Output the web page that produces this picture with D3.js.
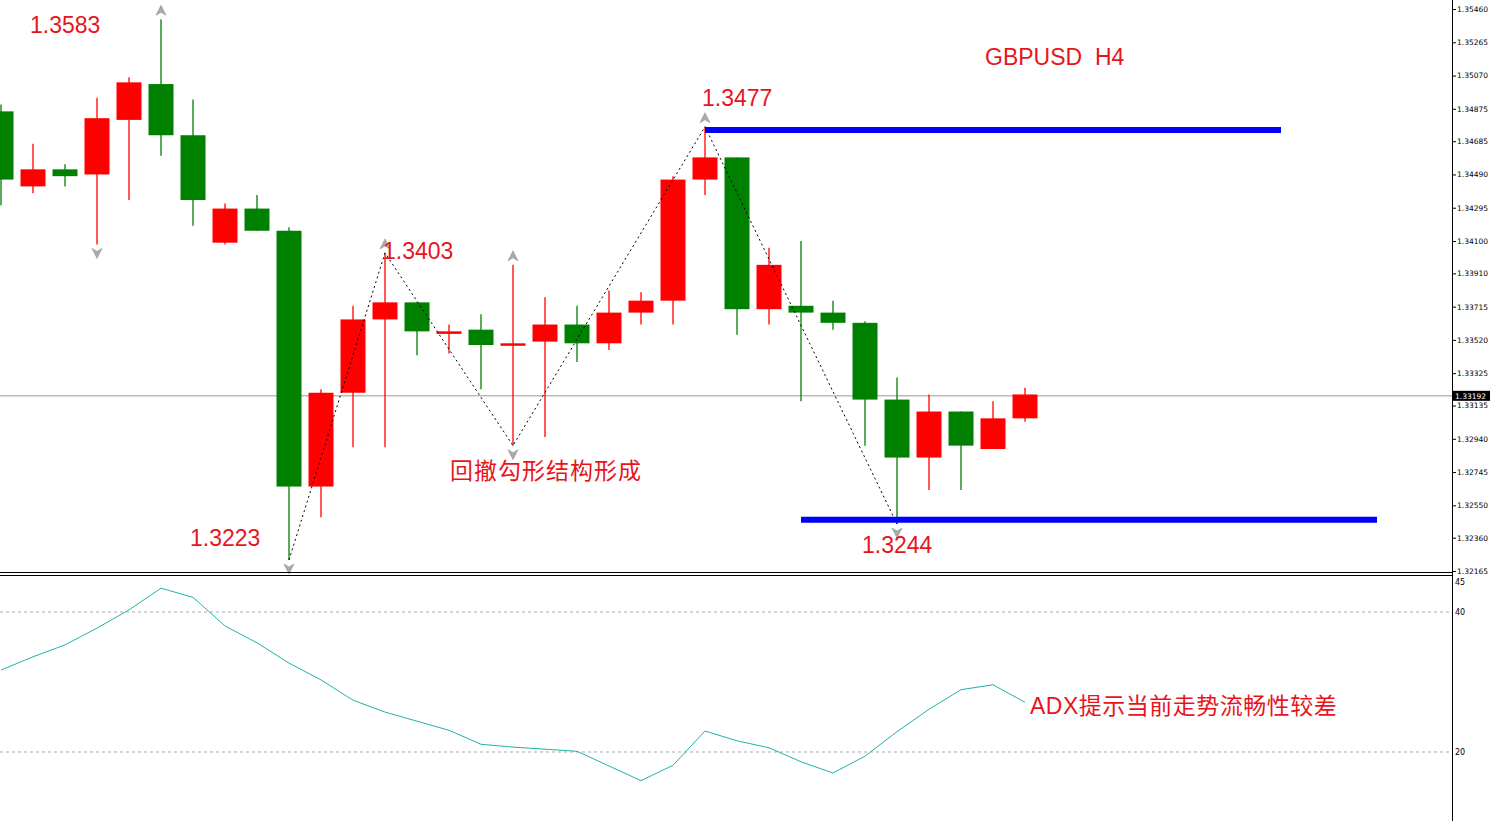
<!DOCTYPE html><html><head><meta charset="utf-8"><script src="https://cdn.jsdelivr.net/npm/d3@7"></script>
<style>body{margin:0;background:#fff}svg{display:block}</style></head><body><svg id="c" width="1490" height="821"></svg><script>
const opens =[1.3486,1.3442,1.3452,1.3449,1.3481,1.3502,1.3472,1.3409,1.3429,1.3416,1.3266,1.3321,1.3364,1.3374,1.3357,1.3358,1.3350,1.3351,1.3361,1.3350,1.3368,1.3375,1.3446,1.3459,1.3370,1.3372,1.3368,1.3362,1.3317,1.3283,1.3310,1.3288,1.3306];
const highs =[1.3490,1.3467,1.3455,1.3494,1.3506,1.3540,1.3493,1.3432,1.3437,1.3418,1.3323,1.3372,1.3403,1.3374,1.3361,1.3367,1.3396,1.3377,1.3372,1.3381,1.3380,1.3448,1.3477,1.3459,1.3406,1.3410,1.3375,1.3363,1.3330,1.3320,1.3310,1.3316,1.3324];
const lows  =[1.3431,1.3438,1.3442,1.3408,1.3434,1.3460,1.3419,1.3408,1.3416,1.3223,1.3248,1.3289,1.3289,1.3343,1.3344,1.3323,1.3290,1.3295,1.3339,1.3346,1.3361,1.3361,1.3437,1.3355,1.3361,1.3316,1.3358,1.3290,1.3244,1.3264,1.3264,1.3288,1.3304];
const closes=[1.3446,1.3452,1.3448,1.3482,1.3503,1.3472,1.3434,1.3429,1.3416,1.3266,1.3321,1.3364,1.3374,1.3357,1.3357,1.3349,1.3350,1.3361,1.3350,1.3368,1.3375,1.3446,1.3459,1.3370,1.3396,1.3368,1.3362,1.3317,1.3283,1.3310,1.3290,1.3306,1.3320];
const adx=[31.7,33.6,35.3,37.7,40.3,43.4,42.1,38.0,35.6,32.7,30.3,27.4,25.7,24.4,23.1,21.1,20.7,20.4,20.1,18.0,15.9,18.1,23.0,21.6,20.6,18.6,17.0,19.4,22.9,26.1,28.9,29.6,27.1];
const zigIdx=[9,12,16,22,28];
const zigPrice=[1.3223,1.3403,1.3290,1.3477,1.3244];
const upArrows=[[5,1.3540],[12,1.3403],[16,1.3396],[22,1.3477]];
const downArrows=[[3,1.3408],[9,1.3223],[16,1.3290],[28,1.3244]];
const levels=[{p:1.3475,from:22,to:40},{p:1.32465,from:25,to:43}];
const priceTicks=[1.35460,1.35265,1.35070,1.34875,1.34685,1.34490,1.34295,1.34100,1.33910,1.33715,1.33520,1.33325,1.33135,1.32940,1.32745,1.32550,1.32360,1.32165];
const adxTicks=[45,40,20];
const lastPrice=1.33192;
const labels=[{t:"1.3583",x:30,y:33,ls:0},{t:"GBPUSD\u00a0\u00a0H4",x:985,y:65,ls:0},{t:"1.3477",x:702,y:106,ls:0},{t:"1.3403",x:383,y:259,ls:0},{t:"回撤勾形结构形成",x:450,y:479,ls:1},{t:"1.3223",x:190,y:546,ls:0},{t:"1.3244",x:862,y:553,ls:0},{t:"ADX提示当前走势流畅性较差",x:1030,y:714,ls:0.5}];

const svg=d3.select("#c");
const x=d3.scaleLinear().domain([0,1]).range([1,33]);
const y=d3.scaleLinear().domain([1.32159,1.35513]).range([572,0]);
const ya=d3.scaleLinear().domain([10.14,45]).range([821,577]);
const RED="#ff0000",GRN="#008000";
const idx=d3.range(opens.length);
const col=i=>closes[i]>=opens[i]?RED:GRN;
svg.append("line").attr("x1",0).attr("x2",1452).attr("y1",y(lastPrice)).attr("y2",y(lastPrice)).attr("stroke","#999");
const g=svg.append("g");
g.selectAll(".w").data(idx).join("line").attr("x1",i=>x(i)).attr("x2",i=>x(i)).attr("y1",i=>y(highs[i])).attr("y2",i=>y(lows[i])).attr("stroke",col).attr("stroke-width",1.3);
g.selectAll(".b").data(idx).join("rect").attr("x",i=>x(i)-12.5).attr("width",25)
 .attr("y",i=>y(Math.max(opens[i],closes[i]))).attr("height",i=>Math.max(2.5,Math.abs(y(opens[i])-y(closes[i])))).attr("fill",col);
svg.append("path").attr("d",d3.line().x(d=>x(d[0])).y(d=>y(d[1]))(zigIdx.map((d,i)=>[d,zigPrice[i]]))).attr("fill","none").attr("stroke","#000").attr("stroke-dasharray","2,3");
const arr=(i,p,up)=>{const cx=x(i),cy=up?y(p)-9:y(p)+9,s=up?-1:1;
 svg.append("path").attr("d",`M${cx},${cy+s*5} L${cx-5},${cy-s*5} L${cx},${cy-s*2} L${cx+5},${cy-s*5}Z`).attr("fill","#aaa").attr("stroke","#888").attr("stroke-width",0.5);};
upArrows.forEach(d=>arr(d[0],d[1],true));downArrows.forEach(d=>arr(d[0],d[1],false));
levels.forEach(l=>svg.append("line").attr("x1",x(l.from)).attr("x2",x(l.to)).attr("y1",y(l.p)).attr("y2",y(l.p)).attr("stroke","#0000ff").attr("stroke-width",6));
svg.append("line").attr("x1",0).attr("x2",1452).attr("y1",572.5).attr("y2",572.5).attr("stroke","#000");
svg.append("line").attr("x1",0).attr("x2",1452).attr("y1",575.5).attr("y2",575.5).attr("stroke","#000");
[40,20].forEach(v=>svg.append("line").attr("x1",0).attr("x2",1452).attr("y1",ya(v)).attr("y2",ya(v)).attr("stroke","#aaa").attr("stroke-dasharray","3,3"));
svg.append("path").attr("d",d3.line().x((d,i)=>x(i)).y(d=>ya(d))(adx)).attr("fill","none").attr("stroke","#20b2aa").attr("stroke-width",1);
svg.append("line").attr("x1",1452.5).attr("x2",1452.5).attr("y1",0).attr("y2",821).attr("stroke","#000");
const ax=svg.append("g").attr("transform","translate(1452,0)").call(d3.axisRight(y).tickValues(priceTicks).tickFormat(d3.format(".5f")).tickSize(4));
ax.select(".domain").remove();ax.selectAll("text").attr("font-size",7.5).attr("font-family","DejaVu Sans").attr("x",5);
const ax2=svg.append("g").attr("transform","translate(1452,0)").call(d3.axisRight(ya).tickValues(adxTicks).tickSize(0));
ax2.select(".domain").remove();ax2.selectAll("text").attr("font-size",8).attr("font-family","DejaVu Sans").attr("x",3).attr("dy",d=>d===45?"0.9em":"0.32em");
svg.append("rect").attr("x",1453).attr("y",y(lastPrice)-5).attr("width",37).attr("height",10).attr("fill","#000");
svg.append("text").attr("x",1455).attr("y",y(lastPrice)+3).attr("font-size",7.5).attr("font-family","DejaVu Sans").attr("fill","#fff").text(lastPrice.toFixed(5));
svg.selectAll(".lb").data(labels).join("text").attr("x",d=>d.x).attr("y",d=>d.y).text(d=>d.t).attr("letter-spacing",d=>d.ls).attr("fill","#e8141c").attr("font-size",23).attr("font-family","Liberation Sans,Arial,Noto Sans CJK SC");
</script></body></html>
